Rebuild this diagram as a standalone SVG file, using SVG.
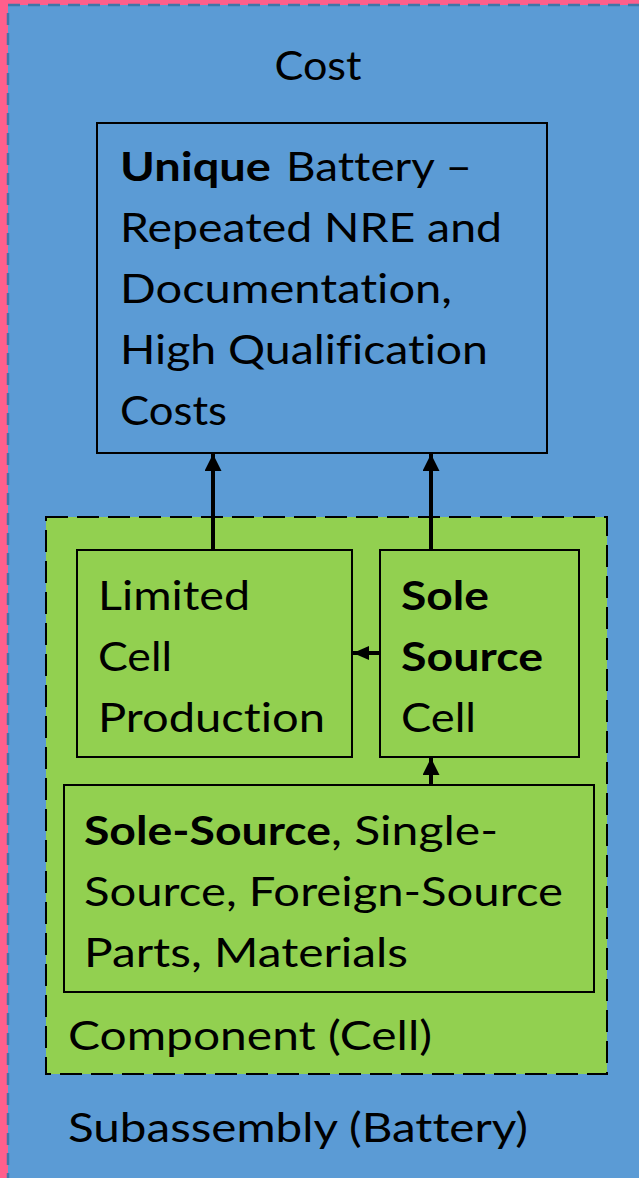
<svg xmlns="http://www.w3.org/2000/svg" width="639" height="1178" viewBox="0 0 639 1178">
<style>
  .t { font-family: Lato, "Liberation Sans", sans-serif; font-size: 40px; fill: #000; font-variant-ligatures: none; }
  .b { font-weight: bold; }
  .box { stroke: #000; stroke-width: 2; }
  .conn { stroke: #000; stroke-width: 4; fill: none; }
</style>
<defs>
  <marker id="ah" viewBox="0 0 17 17" refX="17" refY="8.5" markerUnits="userSpaceOnUse" markerWidth="17" markerHeight="17" orient="auto">
    <path d="M0,0 L17,8.5 L0,17 z" fill="#000"/>
  </marker>
  <marker id="ahs" viewBox="0 0 16 14" refX="16" refY="7" markerUnits="userSpaceOnUse" markerWidth="16" markerHeight="14" orient="auto">
    <path d="M0,0 L16,7 L0,14 z" fill="#000"/>
  </marker>
</defs>
<rect x="0" y="0" width="639" height="1178" fill="#FF5F8C"/>
<g id="subassembly">
  <rect x="8" y="5" width="700" height="1200" fill="#5B9BD5" stroke="#3F77A8" stroke-width="2.5" stroke-dasharray="12 8"/>
  <text class="t" x="318" y="80" text-anchor="middle" textLength="87" lengthAdjust="spacingAndGlyphs">Cost</text>
  <text class="t" x="68" y="1142" textLength="460" lengthAdjust="spacingAndGlyphs">Subassembly (Battery)</text>
</g>
<g id="unique-battery">
  <rect class="box" x="97" y="123" width="450" height="330" fill="#5B9BD5"/>
  <text class="t" x="120" y="181"><tspan class="b" textLength="151" lengthAdjust="spacingAndGlyphs">Unique</tspan><tspan x="286" textLength="186" lengthAdjust="spacingAndGlyphs">Battery –</tspan></text>
  <text class="t" x="120" y="242" textLength="382" lengthAdjust="spacingAndGlyphs">Repeated NRE and</text>
  <text class="t" x="120" y="303" textLength="332" lengthAdjust="spacingAndGlyphs">Documentation,</text>
  <text class="t" x="120" y="364" textLength="368" lengthAdjust="spacingAndGlyphs">High Qualification</text>
  <text class="t" x="120" y="425" textLength="107" lengthAdjust="spacingAndGlyphs">Costs</text>
</g>
<g id="component">
  <rect x="46" y="517" width="561" height="557" fill="#92D050" stroke="#000" stroke-width="2" stroke-dasharray="22 9"/>
  <text class="t" x="68" y="1050" textLength="364" lengthAdjust="spacingAndGlyphs">Component (Cell)</text>
</g>
<g id="limited">
  <rect class="box" x="77" y="550" width="275" height="207" fill="#92D050"/>
  <text class="t" x="98" y="610" textLength="152" lengthAdjust="spacingAndGlyphs">Limited</text>
  <text class="t" x="98" y="671" textLength="74" lengthAdjust="spacingAndGlyphs">Cell</text>
  <text class="t" x="98" y="732" textLength="227" lengthAdjust="spacingAndGlyphs">Production</text>
</g>
<g id="sole-source-cell">
  <rect class="box" x="380" y="550" width="199" height="207" fill="#92D050"/>
  <text class="t b" x="401" y="610" textLength="88" lengthAdjust="spacingAndGlyphs">Sole</text>
  <text class="t b" x="401" y="671" textLength="142" lengthAdjust="spacingAndGlyphs">Source</text>
  <text class="t" x="401" y="732" textLength="75" lengthAdjust="spacingAndGlyphs">Cell</text>
</g>
<g id="parts">
  <rect class="box" x="64" y="785" width="530" height="207" fill="#92D050"/>
  <text class="t" x="84" y="845"><tspan class="b" textLength="247" lengthAdjust="spacingAndGlyphs">Sole-Source</tspan><tspan textLength="167" lengthAdjust="spacingAndGlyphs">, Single-</tspan></text>
  <text class="t" x="84" y="906" textLength="479" lengthAdjust="spacingAndGlyphs">Source, Foreign-Source</text>
  <text class="t" x="84" y="967" textLength="324" lengthAdjust="spacingAndGlyphs">Parts, Materials</text>
</g>
<g id="connectors">
  <line class="conn" x1="213" y1="549" x2="213" y2="454" marker-end="url(#ah)"/>
  <line class="conn" x1="431" y1="549" x2="431" y2="454" marker-end="url(#ah)"/>
  <line class="conn" x1="379" y1="653" x2="353" y2="653" marker-end="url(#ahs)"/>
  <line class="conn" x1="431" y1="784" x2="431" y2="758" marker-end="url(#ah)"/>
</g>
</svg>
